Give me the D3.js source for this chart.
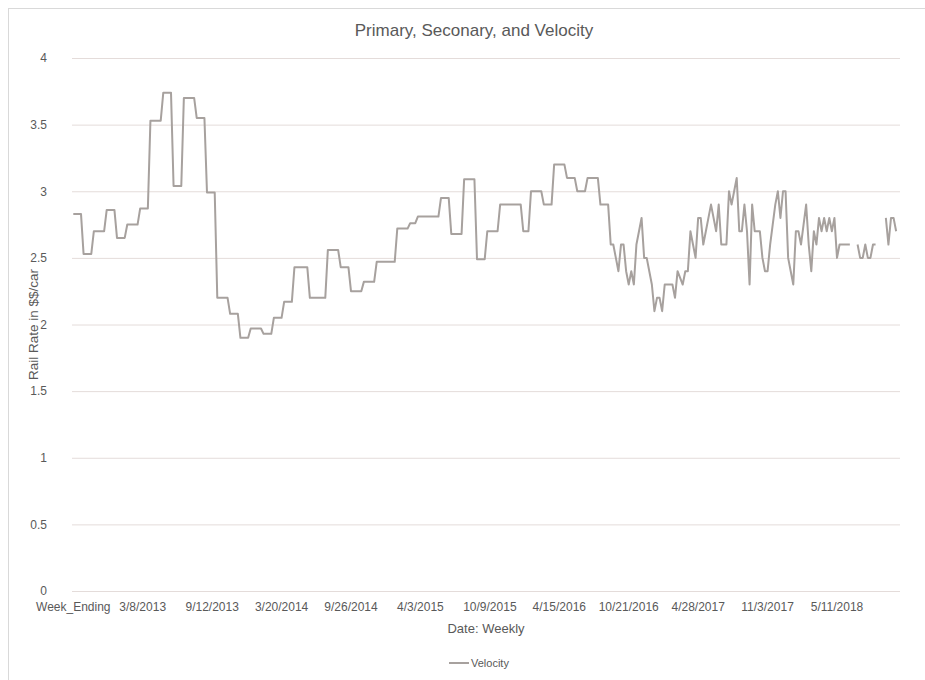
<!DOCTYPE html>
<html>
<head>
<meta charset="utf-8">
<script src="https://cdn.jsdelivr.net/npm/d3@7"></script>
<style>
  body { margin: 0; background: #fff; }
  text { font-family: "Liberation Sans", Arial, sans-serif; fill: #595959; }
</style>
</head>
<body>
<svg id="chart" width="925" height="680"></svg>
<script>
const tickLabels = ["Week_Ending", "3/8/2013", "9/12/2013", "3/20/2014", "9/26/2014", "4/3/2015",
  "10/9/2015", "4/15/2016", "10/21/2016", "4/28/2017", "11/3/2017", "5/11/2018"];
const labelStep = 27;
const yTicks = [0, 0.5, 1, 1.5, 2, 2.5, 3, 3.5, 4];

// weekly rail rate, one value per week (null = no data)
const velocity = [
  2.83, 2.83, 2.83, 2.83, 2.53, 2.53, 2.53, 2.53, 2.70, 2.70,
  2.70, 2.70, 2.70, 2.86, 2.86, 2.86, 2.86, 2.65, 2.65, 2.65,
  2.65, 2.75, 2.75, 2.75, 2.75, 2.75, 2.87, 2.87, 2.87, 2.87,
  3.53, 3.53, 3.53, 3.53, 3.53, 3.74, 3.74, 3.74, 3.74, 3.04,
  3.04, 3.04, 3.04, 3.70, 3.70, 3.70, 3.70, 3.70, 3.55, 3.55,
  3.55, 3.55, 2.99, 2.99, 2.99, 2.99, 2.20, 2.20, 2.20, 2.20,
  2.20, 2.08, 2.08, 2.08, 2.08, 1.90, 1.90, 1.90, 1.90, 1.97,
  1.97, 1.97, 1.97, 1.97, 1.93, 1.93, 1.93, 1.93, 2.05, 2.05,
  2.05, 2.05, 2.17, 2.17, 2.17, 2.17, 2.43, 2.43, 2.43, 2.43,
  2.43, 2.43, 2.20, 2.20, 2.20, 2.20, 2.20, 2.20, 2.20, 2.56,
  2.56, 2.56, 2.56, 2.56, 2.43, 2.43, 2.43, 2.43, 2.25, 2.25,
  2.25, 2.25, 2.25, 2.32, 2.32, 2.32, 2.32, 2.32, 2.47, 2.47,
  2.47, 2.47, 2.47, 2.47, 2.47, 2.47, 2.72, 2.72, 2.72, 2.72,
  2.72, 2.76, 2.76, 2.76, 2.81, 2.81, 2.81, 2.81, 2.81, 2.81,
  2.81, 2.81, 2.81, 2.95, 2.95, 2.95, 2.95, 2.68, 2.68, 2.68,
  2.68, 2.68, 3.09, 3.09, 3.09, 3.09, 3.09, 2.49, 2.49, 2.49,
  2.49, 2.70, 2.70, 2.70, 2.70, 2.70, 2.90, 2.90, 2.90, 2.90,
  2.90, 2.90, 2.90, 2.90, 2.90, 2.70, 2.70, 2.70, 3.00, 3.00,
  3.00, 3.00, 3.00, 2.90, 2.90, 2.90, 2.90, 3.20, 3.20, 3.20,
  3.20, 3.20, 3.10, 3.10, 3.10, 3.10, 3.00, 3.00, 3.00, 3.00,
  3.10, 3.10, 3.10, 3.10, 3.10, 2.90, 2.90, 2.90, 2.90, 2.60,
  2.60, 2.50, 2.40, 2.60, 2.60, 2.40, 2.30, 2.40, 2.30, 2.60,
  2.70, 2.80, 2.50, 2.50, 2.40, 2.30, 2.10, 2.20, 2.20, 2.10,
  2.30, 2.30, 2.30, 2.30, 2.20, 2.40, 2.35, 2.30, 2.40, 2.40,
  2.70, 2.60, 2.50, 2.80, 2.80, 2.60, 2.70, 2.80, 2.90, 2.80,
  2.70, 2.90, 2.60, 2.60, 2.60, 3.00, 2.90, 3.00, 3.10, 2.70,
  2.70, 2.90, 2.70, 2.30, 2.90, 2.70, 2.70, 2.70, 2.50, 2.40,
  2.40, 2.60, 2.75, 2.90, 3.00, 2.80, 3.00, 3.00, 2.50, 2.40,
  2.30, 2.70, 2.70, 2.60, 2.75, 2.90, 2.60, 2.40, 2.70, 2.60,
  2.80, 2.70, 2.80, 2.70, 2.80, 2.70, 2.80, 2.50, 2.60, 2.60,
  2.60, 2.60, 2.60, null, null, 2.60, 2.50, 2.50, 2.60, 2.50,
  2.50, 2.60, 2.60, null, null, null, 2.80, 2.60, 2.80, 2.80,
  2.70, null
];

const svg = d3.select("#chart");
const plotLeft = 72, plotRight = 900, plotTop = 58, plotBottom = 591;

// chart frame
svg.append("rect")
  .attr("x", 8.5).attr("y", 8.5)
  .attr("width", 1000).attr("height", 1000)
  .attr("fill", "none").attr("stroke", "#d9d9d9");

const x = d3.scaleBand()
  .domain(d3.range(velocity.length))
  .range([plotLeft, plotRight]);

const y = d3.scaleLinear()
  .domain([0, 4])
  .range([plotBottom, plotTop]);

// y axis + gridlines
const gy = svg.append("g")
  .attr("transform", `translate(${plotLeft},0)`)
  .call(d3.axisLeft(y).tickValues(yTicks).tickFormat(d3.format("~g"))
    .tickSize(-(plotRight - plotLeft)).tickPadding(25));
gy.select(".domain").remove();
gy.selectAll(".tick line").attr("stroke", "#e4dcda").attr("stroke-width", 1);
gy.selectAll(".tick text").style("font-size", "12px").attr("fill", "#595959");

// x axis
const gx = svg.append("g")
  .attr("transform", `translate(0,${plotBottom})`)
  .call(d3.axisBottom(x)
    .tickValues(d3.range(0, velocity.length, labelStep))
    .tickFormat(i => tickLabels[i / labelStep])
    .tickSize(0).tickPadding(11));
gx.select(".domain").remove();
gx.selectAll(".tick text").style("font-size", "12px").attr("fill", "#595959");

const line = d3.line()
  .defined(d => d != null)
  .x((d, i) => x(i) + x.bandwidth() / 2)
  .y(d => y(d));

svg.append("path")
  .datum(velocity)
  .attr("fill", "none")
  .attr("stroke", "#a7a19e")
  .attr("stroke-width", 2)
  .attr("stroke-linejoin", "round")
  .attr("d", line);

// titles
svg.append("text")
  .attr("x", 474).attr("y", 36)
  .attr("text-anchor", "middle")
  .style("font-size", "17px")
  .text("Primary, Seconary, and Velocity");

svg.append("text")
  .attr("transform", `translate(38,${(plotTop + plotBottom) / 2}) rotate(-90)`)
  .attr("text-anchor", "middle")
  .style("font-size", "13.5px")
  .text("Rail Rate in $$/car");

svg.append("text")
  .attr("x", (plotLeft + plotRight) / 2).attr("y", 633)
  .attr("text-anchor", "middle")
  .style("font-size", "13px")
  .text("Date: Weekly");

// legend
const lg = svg.append("g").attr("transform", "translate(449,663)");
lg.append("line")
  .attr("x1", 0).attr("x2", 20)
  .attr("stroke", "#a7a19e").attr("stroke-width", 2);
lg.append("text")
  .attr("x", 22).attr("dy", "0.35em")
  .style("font-size", "11px")
  .text("Velocity");
</script>
</body>
</html>
